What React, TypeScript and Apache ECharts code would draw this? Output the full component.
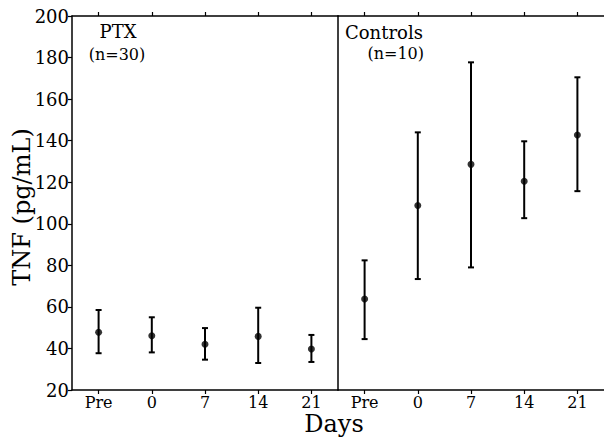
import React, { useEffect, useRef } from "react";
import * as echarts from "echarts";

const timepoints = ["Pre", "0", "7", "14", "21"];
const yTicks = { min: 20, max: 200, interval: 20 };

const ptxMean = [47.8, 46.1, 42.0, 45.8, 39.7];
const ptxUpper = [58.5, 55.0, 49.8, 59.6, 46.5];
const ptxLower = [37.7, 38.1, 34.6, 33.0, 33.5];

const ctlMean = [63.8, 108.8, 128.6, 120.5, 142.7];
const ctlUpper = [82.4, 144.0, 177.7, 139.7, 170.5];
const ctlLower = [44.5, 73.4, 79.0, 102.7, 115.7];

const FONT = "DejaVu Serif";

function errRender(params: any, api: any) {
  const x = api.value(0);
  const hi = api.coord([x, api.value(1)]);
  const lo = api.coord([x, api.value(2)]);
  const c = 3;
  const st = { stroke: "#000", lineWidth: 2 };
  return {
    type: "group",
    children: [
      { type: "line", shape: { x1: hi[0], y1: hi[1], x2: lo[0], y2: lo[1] }, style: st },
      { type: "line", shape: { x1: hi[0] - c, y1: hi[1], x2: hi[0] + c, y2: hi[1] }, style: st },
      { type: "line", shape: { x1: lo[0] - c, y1: lo[1], x2: lo[0] + c, y2: lo[1] }, style: st },
    ],
  };
}

export default function App() {
  const ref = useRef<HTMLDivElement>(null);
  useEffect(() => {
    if (!ref.current) return;
    const chart = echarts.init(ref.current, null, { renderer: "svg" });
    const axisLine = { show: true, lineStyle: { color: "#000", width: 1.5 } };
    const mkX = (gi: number, pos: "bottom" | "top") => ({
      type: "category" as const,
      gridIndex: gi,
      position: pos,
      data: timepoints,
      boundaryGap: true,
      axisLine,
      axisTick: { show: true, alignWithLabel: true, length: 4, inside: false, lineStyle: { color: "#000", width: 1.2 } },
      axisLabel: pos === "bottom"
        ? { show: true, color: "#000", fontFamily: FONT, fontSize: 16, margin: 4 }
        : { show: false },
      splitLine: { show: false },
    });
    const mkY = (gi: number) => ({
      type: "value" as const,
      gridIndex: gi,
      min: yTicks.min,
      max: yTicks.max,
      interval: yTicks.interval,
      axisLine,
      axisTick: gi === 0 ? { show: true, length: 4, lineStyle: { color: "#000", width: 1.2 } } : { show: false },
      axisLabel: gi === 0
        ? { show: true, color: "#000", fontFamily: FONT, fontSize: 18, margin: 3 }
        : { show: false },
      splitLine: { show: false },
    });
    const errData = (up: number[], lo: number[]) => up.map((u, i) => [i, u, lo[i]]);
    const ptData = (m: number[]) => m.map((v, i) => [i, v]);
    chart.setOption({
      animation: false,
      backgroundColor: "#fff",
      grid: [
        { left: 72, top: 16, width: 266, height: 374 },
        { left: 338, top: 16, width: 266, height: 374 },
      ],
      xAxis: [mkX(0, "bottom"), mkX(0, "top"), mkX(1, "bottom"), mkX(1, "top")],
      yAxis: [mkY(0), mkY(1)],
      series: [
        { type: "custom", xAxisIndex: 0, yAxisIndex: 0, renderItem: errRender, data: errData(ptxUpper, ptxLower), encode: { x: 0, y: [1, 2] } },
        { type: "scatter", xAxisIndex: 0, yAxisIndex: 0, data: ptData(ptxMean), symbolSize: 7, itemStyle: { color: "#000" } },
        { type: "custom", xAxisIndex: 2, yAxisIndex: 1, renderItem: errRender, data: errData(ctlUpper, ctlLower), encode: { x: 0, y: [1, 2] } },
        { type: "scatter", xAxisIndex: 2, yAxisIndex: 1, data: ptData(ctlMean), symbolSize: 7, itemStyle: { color: "#000" } },
      ],
      graphic: [
        { type: "text", x: 118, y: 31, style: { text: "PTX", font: `18px '${FONT}'`, fill: "#000", textAlign: "center", textVerticalAlign: "middle" } },
        { type: "text", x: 117, y: 54, style: { text: "(n=30)", font: `16px '${FONT}'`, fill: "#000", textAlign: "center", textVerticalAlign: "middle" } },
        { type: "text", x: 345, y: 32, style: { text: "Controls", font: `18px '${FONT}'`, fill: "#000", textAlign: "left", textVerticalAlign: "middle" } },
        { type: "text", x: 424, y: 53, style: { text: "(n=10)", font: `16px '${FONT}'`, fill: "#000", textAlign: "right", textVerticalAlign: "middle" } },
        { type: "text", x: 334, y: 424, style: { text: "Days", font: `24px '${FONT}'`, fill: "#000", textAlign: "center", textVerticalAlign: "middle" } },
        { type: "text", x: 22, y: 207, rotation: Math.PI / 2, style: { text: "TNF (pg/mL)", font: `24px '${FONT}'`, fill: "#000", textAlign: "center", textVerticalAlign: "middle" } },
      ],
    });
    return () => chart.dispose();
  }, []);
  return <div ref={ref} style={{ width: 604, height: 442, position: "absolute", left: 0, top: 0 }} />;
}
